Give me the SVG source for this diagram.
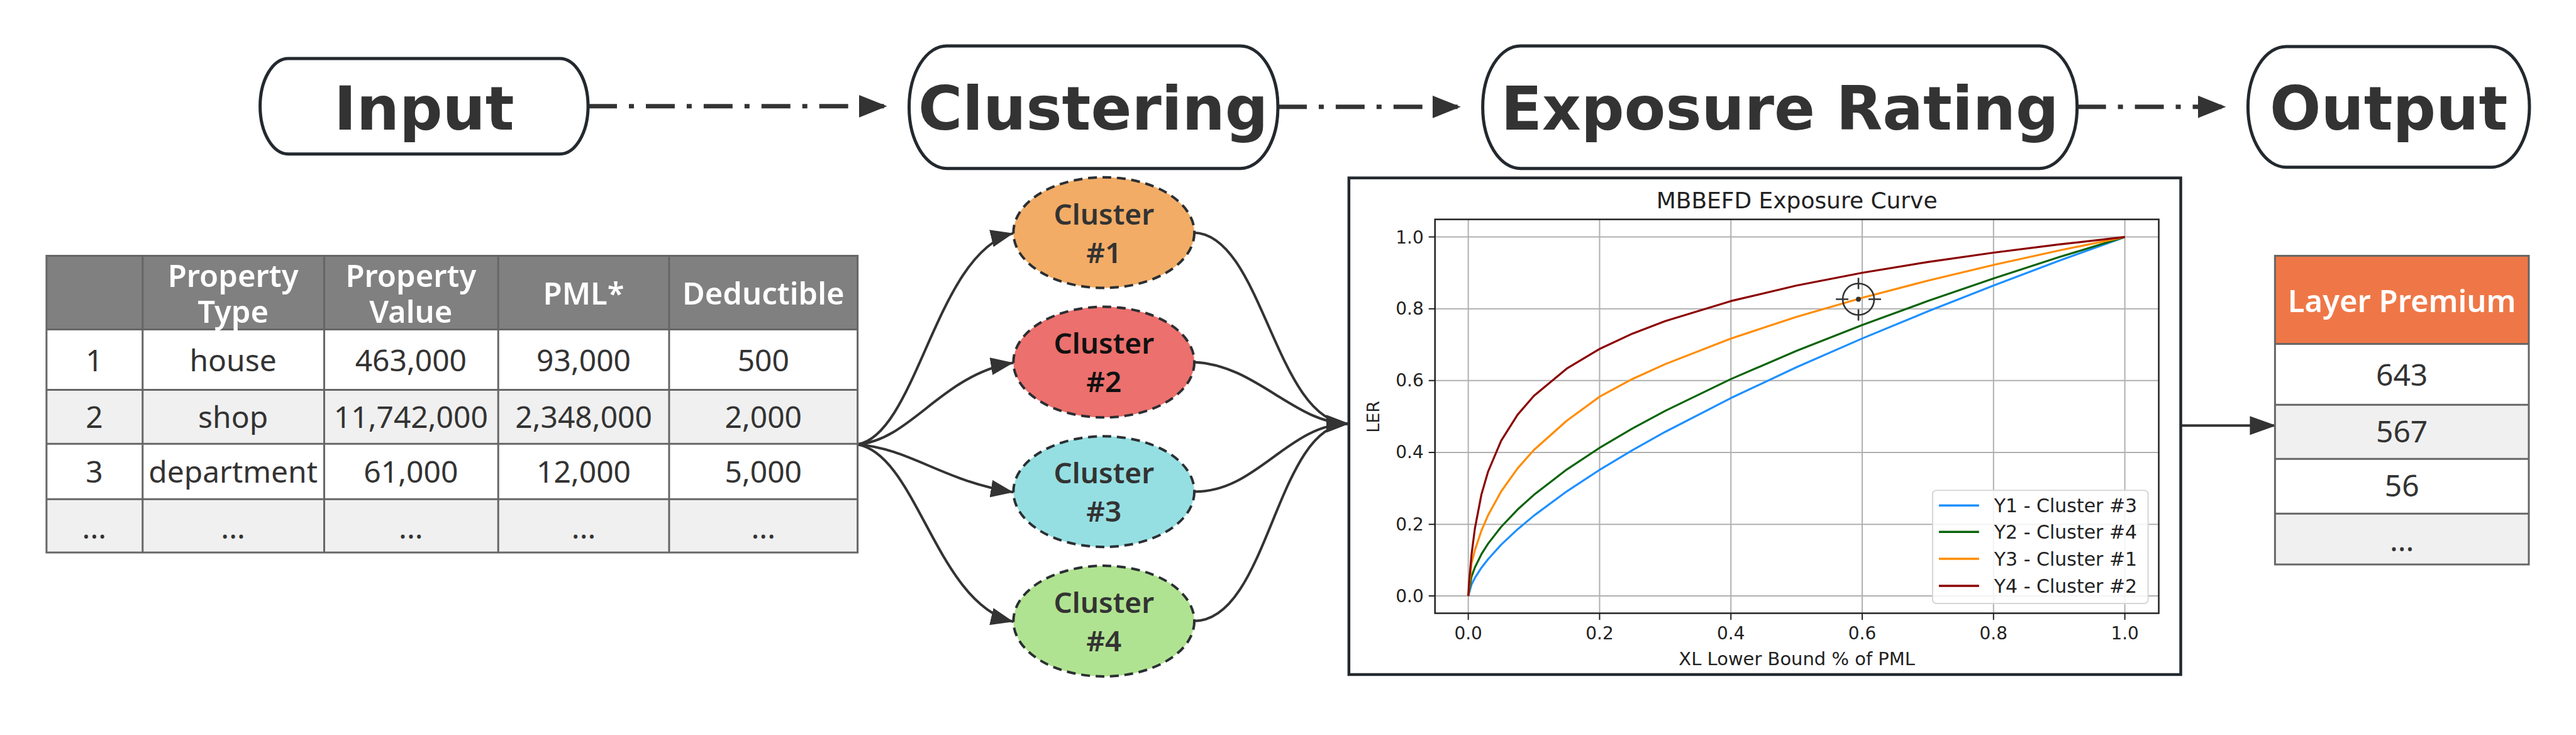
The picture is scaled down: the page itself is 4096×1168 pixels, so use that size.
<svg xmlns="http://www.w3.org/2000/svg" width="4096" height="1168" viewBox="0 0 4096 1168">
<defs>
<style>
.box{fill:#fff;stroke:#23292e;stroke-width:5}
.boxt{font-family:"DejaVu Sans",Verdana,sans-serif;font-weight:bold;font-size:96px;fill:#333;text-anchor:middle}
.dd{fill:none;stroke:#333;stroke-width:7;stroke-dasharray:46 19 8 19}
.cv{fill:none;stroke:#333;stroke-width:4}
.grid{stroke:#b0b0b0;stroke-width:2}
.tt{font-family:"Noto Sans","Open Sans",sans-serif;font-size:48px;fill:#333;text-anchor:middle}
.th{font-family:"Noto Sans","Open Sans",sans-serif;font-size:49px;font-weight:600;fill:#fff;text-anchor:middle}
.tl{fill:none;stroke:#666;stroke-width:3}
.cl{stroke:#2b2f33;stroke-width:4;stroke-dasharray:14 9}
.ct{font-family:"Noto Sans","Open Sans",sans-serif;font-size:46px;font-weight:600;fill:#333;text-anchor:middle}
.mt{font-family:"DejaVu Sans",sans-serif;fill:#222}
.crv{fill:none;stroke-width:3.2;stroke-linejoin:round}
</style>
<marker id="ahDD" markerUnits="userSpaceOnUse" markerWidth="46" markerHeight="38" refX="40" refY="18" orient="auto" viewBox="0 0 46 38"><path d="M0,0 L45,18 L0,36 z" fill="#333"/></marker>
<marker id="ahC" markerUnits="userSpaceOnUse" markerWidth="38" markerHeight="30" refX="36" refY="14" orient="auto" viewBox="0 0 38 30"><path d="M0,0 L36,14 L0,28 z" fill="#333"/></marker>
<marker id="ahO" markerUnits="userSpaceOnUse" markerWidth="44" markerHeight="32" refX="42" refY="15" orient="auto" viewBox="0 0 44 32"><path d="M0,0 L42,15 L0,30 z" fill="#333"/></marker>
</defs>
<rect width="4096" height="1168" fill="#fff"/>
<g transform="scale(0.999)">

<g id="connectors">
<path class="dd" d="M936,169 L1407,169" marker-end="url(#ahDD)"/>
<path class="dd" d="M2034,170 L2320,170" marker-end="url(#ahDD)"/>
<path class="dd" d="M3306,170 L3538,170" marker-end="url(#ahDD)"/>
<path class="cv" d="M1365,707 C1460,690 1490,400 1613,371" marker-end="url(#ahC)"/>
<path class="cv" d="M1365,707 C1450,700 1500,595 1613,577" marker-end="url(#ahC)"/>
<path class="cv" d="M1365,707 C1450,714 1500,765 1613,783" marker-end="url(#ahC)"/>
<path class="cv" d="M1365,707 C1460,724 1490,960 1613,989" marker-end="url(#ahC)"/>
<path class="cv" d="M1900,370 C2010,372 2030,674 2147,674" marker-end="url(#ahC)"/>
<path class="cv" d="M1900,576 C2000,580 2060,674 2147,674" marker-end="url(#ahC)"/>
<path class="cv" d="M1900,782 C2000,784 2050,674 2147,674" marker-end="url(#ahC)"/>
<path class="cv" d="M1900,988 C2020,988 2030,674 2147,674" marker-end="url(#ahC)"/>
<path class="cv" d="M3471,677 L3623,677" marker-end="url(#ahO)"/>
</g>

<g id="input">
<rect class="box" x="414" y="93" width="522" height="152" rx="45" ry="76"/>
<text class="boxt" x="675" y="206">Input</text>
</g>
<g id="clustering">
<rect class="box" x="1447" y="73" width="587" height="195" rx="60" ry="97"/>
<text class="boxt" x="1740" y="206">Clustering</text>
</g>
<g id="exposure-rating">
<rect class="box" x="2360" y="73" width="946" height="195" rx="60" ry="97"/>
<text class="boxt" x="2833" y="206">Exposure Rating</text>
</g>
<g id="output">
<rect class="box" x="3578" y="74" width="448" height="192" rx="61" ry="96"/>
<text class="boxt" x="3802" y="206">Output</text>
</g>

<g id="input-table">
<rect x="74" y="407" width="1291" height="117" fill="#808080"/>
<rect x="74" y="524" width="1291" height="96" fill="#fff"/>
<rect x="74" y="620" width="1291" height="86" fill="#f0f0f0"/>
<rect x="74" y="706" width="1291" height="88" fill="#fff"/>
<rect x="74" y="794" width="1291" height="85" fill="#f0f0f0"/>
<path class="tl" d="M74,407 H1365 V879 H74 Z M74,524 H1365 M74,620 H1365 M74,706 H1365 M74,794 H1365 M227,407 V879 M516,407 V879 M793,407 V879 M1065,407 V879"/>
<text class="th" x="371" y="456">Property</text>
<text class="th" x="371" y="514">Type</text>
<text class="th" x="654" y="456">Property</text>
<text class="th" x="654" y="514">Value</text>
<text class="th" x="929" y="484">PML*</text>
<text class="th" x="1215" y="484">Deductible</text>
<text class="tt" x="150" y="591">1</text>
<text class="tt" x="371" y="591">house</text>
<text class="tt" x="654" y="591">463,000</text>
<text class="tt" x="929" y="591">93,000</text>
<text class="tt" x="1215" y="591">500</text>
<text class="tt" x="150" y="681">2</text>
<text class="tt" x="371" y="681">shop</text>
<text class="tt" x="654" y="681">11,742,000</text>
<text class="tt" x="929" y="681">2,348,000</text>
<text class="tt" x="1215" y="681">2,000</text>
<text class="tt" x="150" y="768">3</text>
<text class="tt" x="371" y="768">department</text>
<text class="tt" x="654" y="768">61,000</text>
<text class="tt" x="929" y="768">12,000</text>
<text class="tt" x="1215" y="768">5,000</text>
<text class="tt" x="150" y="857">...</text>
<text class="tt" x="371" y="857">...</text>
<text class="tt" x="654" y="857">...</text>
<text class="tt" x="929" y="857">...</text>
<text class="tt" x="1215" y="857">...</text>
</g>

<g id="cluster1">
<ellipse class="cl" cx="1757" cy="370" rx="144" ry="88" fill="#f2ac66"/>
<text class="ct" x="1757" y="357">Cluster</text>
<text class="ct" x="1757" y="418">#1</text>
</g>
<g id="cluster2">
<ellipse class="cl" cx="1757" cy="576" rx="144" ry="88" fill="#ec706d"/>
<text class="ct" x="1757" y="563" style="fill:#111">Cluster</text>
<text class="ct" x="1757" y="624" style="fill:#111">#2</text>
</g>
<g id="cluster3">
<ellipse class="cl" cx="1757" cy="782" rx="144" ry="88" fill="#95dfe2"/>
<text class="ct" x="1757" y="769">Cluster</text>
<text class="ct" x="1757" y="830">#3</text>
</g>
<g id="cluster4">
<ellipse class="cl" cx="1757" cy="988" rx="144" ry="88" fill="#b0e391"/>
<text class="ct" x="1757" y="975">Cluster</text>
<text class="ct" x="1757" y="1036">#4</text>
</g>

<g id="chart">
<rect x="2147" y="283" width="1324" height="790" fill="#fff" stroke="#23292e" stroke-width="4.5"/>
<text class="mt" x="2860" y="331" font-size="36" text-anchor="middle">MBBEFD Exposure Curve</text>
<g class="grid">
<line x1="2337" y1="349" x2="2337" y2="975"/>
<line x1="2546" y1="349" x2="2546" y2="975"/>
<line x1="2755" y1="349" x2="2755" y2="975"/>
<line x1="2964" y1="349" x2="2964" y2="975"/>
<line x1="3173" y1="349" x2="3173" y2="975"/>
<line x1="3382" y1="349" x2="3382" y2="975"/>
<line x1="2284" y1="948" x2="3436" y2="948"/>
<line x1="2284" y1="834" x2="3436" y2="834"/>
<line x1="2284" y1="719.6" x2="3436" y2="719.6"/>
<line x1="2284" y1="605.4" x2="3436" y2="605.4"/>
<line x1="2284" y1="491.2" x2="3436" y2="491.2"/>
<line x1="2284" y1="377" x2="3436" y2="377"/>
</g>
<path d="M2274,948 H2284 M2274,834 H2284 M2274,719.6 H2284 M2274,605.4 H2284 M2274,491.2 H2284 M2274,377 H2284 M2337,975.5 V986 M2546,975.5 V986 M2755,975.5 V986 M2964,975.5 V986 M3173,975.5 V986 M3382,975.5 V986" stroke="#222" stroke-width="2"/>
<g class="mt" font-size="28" text-anchor="end">
<text x="2266" y="958">0.0</text>
<text x="2266" y="844">0.2</text>
<text x="2266" y="729">0.4</text>
<text x="2266" y="615">0.6</text>
<text x="2266" y="501">0.8</text>
<text x="2266" y="387">1.0</text>
</g>
<g class="mt" font-size="28" text-anchor="middle">
<text x="2337" y="1017">0.0</text>
<text x="2546" y="1017">0.2</text>
<text x="2755" y="1017">0.4</text>
<text x="2964" y="1017">0.6</text>
<text x="3173" y="1017">0.8</text>
<text x="3382" y="1017">1.0</text>
</g>
<text class="mt" x="2860" y="1058" font-size="29" text-anchor="middle">XL Lower Bound % of PML</text>
<text class="mt" transform="translate(2195,663) rotate(-90)" font-size="27" text-anchor="middle">LER</text>
<polyline class="crv" stroke="#1e90ff" points="2337,948 2342.2,929.8 2347.5,919.4 2357.9,903.1 2368.4,889.6 2389.3,866.5 2415.4,842 2441.5,820.2 2493.8,781.6 2546,747.4 2598.3,716.1 2650.5,686.9 2755,633.2 2859.5,584.1 2964,538.4 3068.5,495.3 3173,454.1 3277.5,414.7 3382,377"/>
<polyline class="crv" stroke="#0a640a" points="2337,948 2342.2,917 2347.5,902.7 2357.9,881.6 2368.4,865 2389.3,838.1 2415.4,810.6 2441.5,787.1 2493.8,746.8 2546,712.3 2598.3,681.6 2650.5,653.5 2755,603 2859.5,558 2964,517 3068.5,478.8 3173,442.9 3277.5,409 3382,377"/>
<polyline class="crv" stroke="#ff8c00" points="2337,948 2342.2,896.2 2347.5,875.3 2357.9,844.2 2368.4,819.9 2389.3,781.8 2415.4,745.1 2441.5,715.7 2493.8,669.2 2546,631 2598.3,602.8 2650.5,579.2 2755,538.5 2859.5,504 2964,473.7 3068.5,446.4 3173,421.4 3277.5,398.4 3382,377"/>
<polyline class="crv" stroke="#8b0000" points="2337,948 2338,931.3 2339.1,916.8 2342.2,881.9 2347.5,840.7 2357.9,786.7 2368.4,750.5 2389.3,701.1 2415.4,659.8 2441.5,629.6 2493.8,586.3 2546,555.1 2598.3,530.7 2650.5,510.7 2755,478.9 2859.5,454.2 2964,433.9 3068.5,416.8 3173,401.9 3277.5,388.8 3382,377"/>
<rect x="2284" y="349" width="1152" height="626.5" fill="none" stroke="#222" stroke-width="2.5"/>
<g stroke="#333" stroke-width="2.6" fill="none">
<circle cx="2958" cy="476" r="25"/>
<path d="M2922,476 H2942 M2974,476 H2994 M2958,442 V460 M2958,492 V510"/>
</g>
<circle cx="2958" cy="476" r="4" fill="#333"/>
<rect x="3076" y="780" width="343" height="180" rx="6" fill="#fff" fill-opacity="0.85" stroke="#d6d6d6" stroke-width="2"/>
<line x1="3086" y1="804" x2="3150" y2="804" stroke="#1e90ff" stroke-width="3.5"/>
<line x1="3086" y1="846" x2="3150" y2="846" stroke="#0a640a" stroke-width="3.5"/>
<line x1="3086" y1="889" x2="3150" y2="889" stroke="#ff8c00" stroke-width="3.5"/>
<line x1="3086" y1="932" x2="3150" y2="932" stroke="#8b0000" stroke-width="3.5"/>
<g class="mt" font-size="30">
<text x="3174" y="815">Y1 - Cluster #3</text>
<text x="3174" y="857">Y2 - Cluster #4</text>
<text x="3174" y="900">Y3 - Cluster #1</text>
<text x="3174" y="943">Y4 - Cluster #2</text>
</g>
</g>

<g id="output-table">
<rect x="3621" y="407" width="404" height="140" fill="#ef7747"/>
<rect x="3621" y="547" width="404" height="97" fill="#fff"/>
<rect x="3621" y="644" width="404" height="86" fill="#f0f0f0"/>
<rect x="3621" y="730" width="404" height="87" fill="#fff"/>
<rect x="3621" y="817" width="404" height="81" fill="#f0f0f0"/>
<path class="tl" d="M3621,407 H4025 V898 H3621 Z M3621,547 H4025 M3621,644 H4025 M3621,730 H4025 M3621,817 H4025"/>
<text class="th" x="3823" y="496">Layer Premium</text>
<text class="tt" x="3823" y="614">643</text>
<text class="tt" x="3823" y="704">567</text>
<text class="tt" x="3823" y="790">56</text>
<text class="tt" x="3823" y="877">...</text>
</g>

</g>
</svg>
